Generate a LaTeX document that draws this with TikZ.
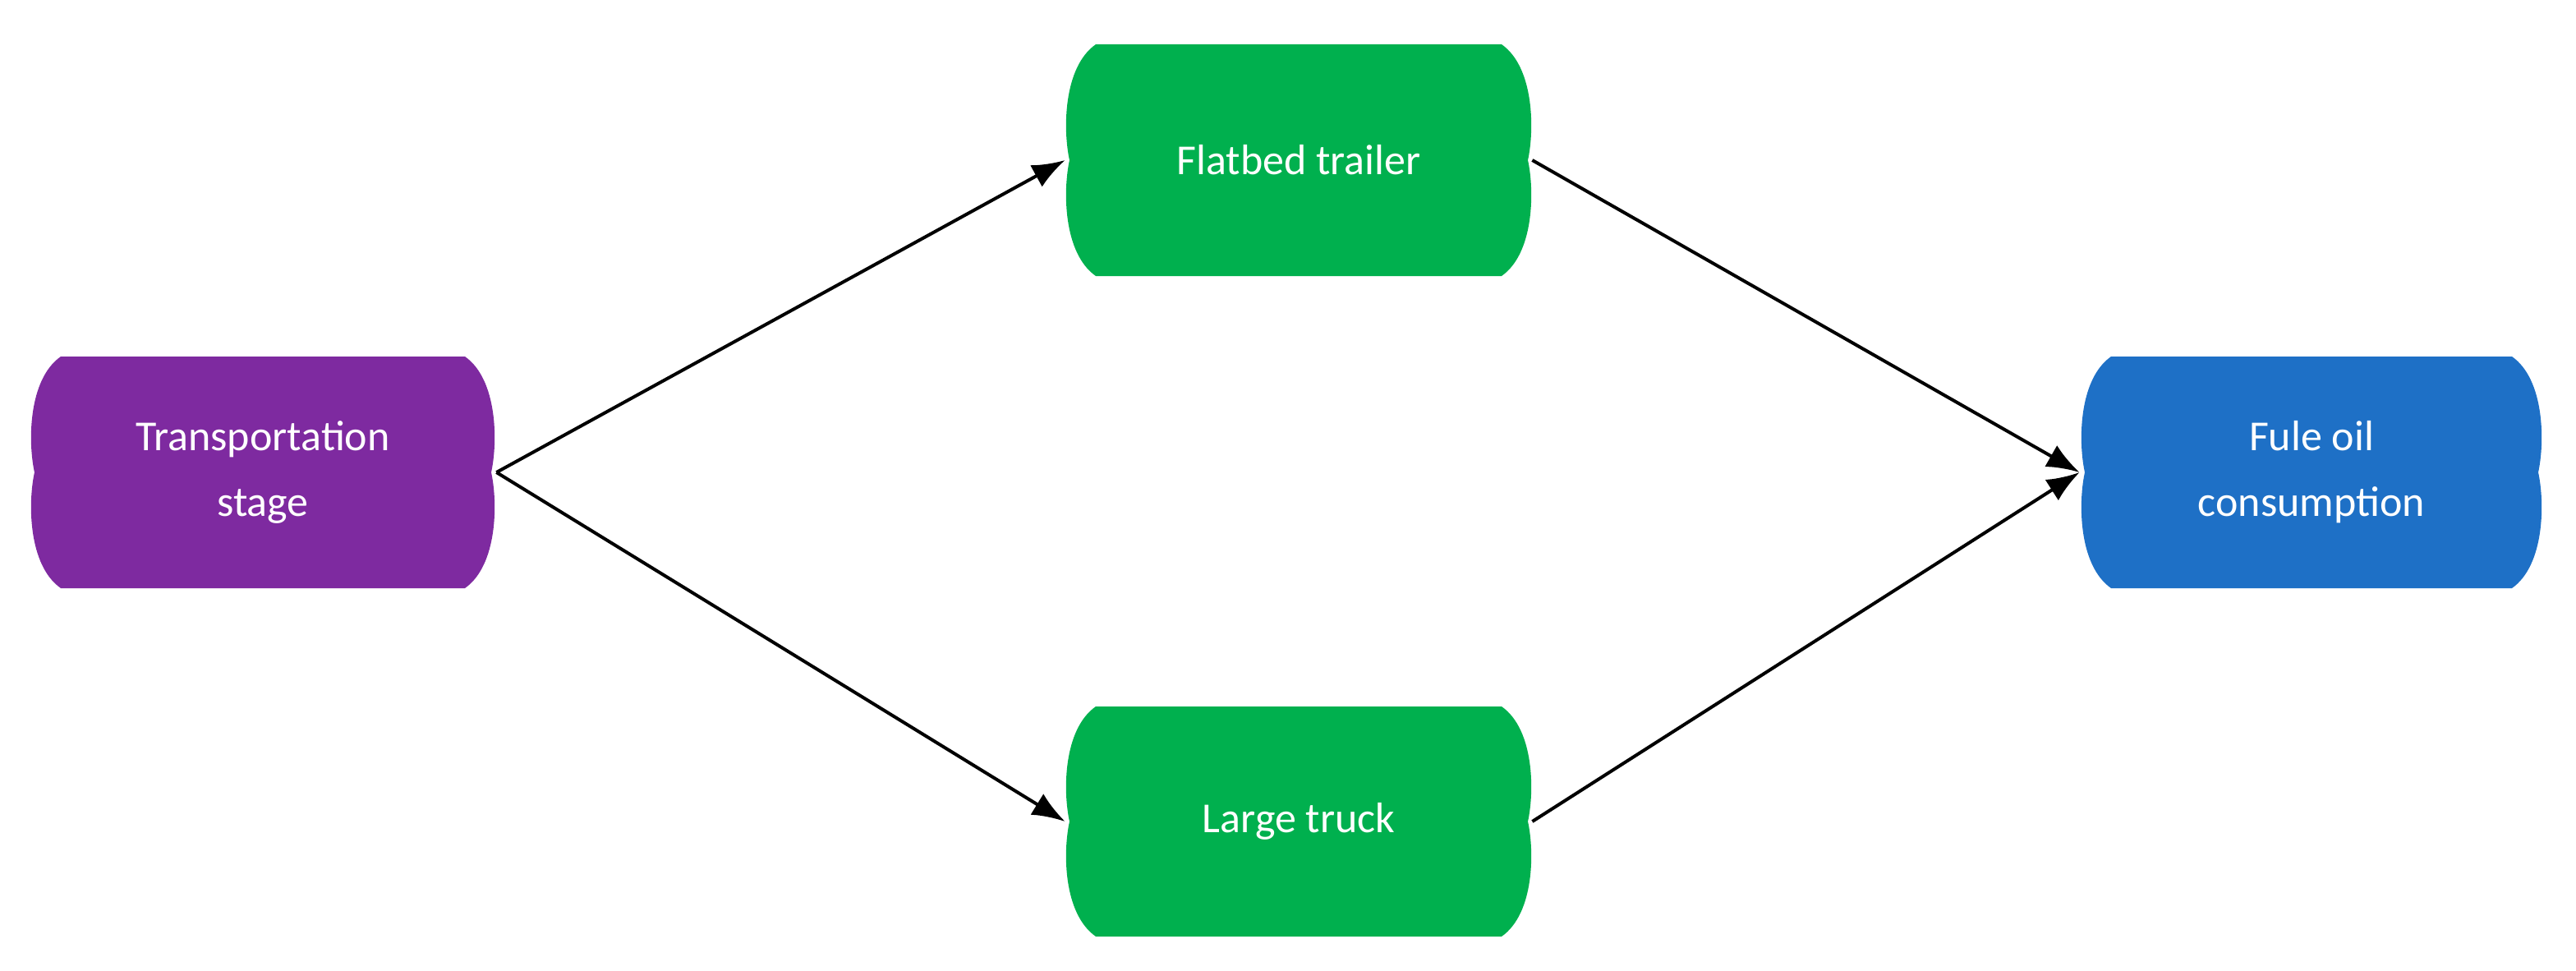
\documentclass[tikz,border=0pt]{standalone}
\usepackage{fontspec}
\setmainfont{Carlito}
\usetikzlibrary{arrows.meta}
\definecolor{cpur}{HTML}{7E2AA0}
\definecolor{cgrn}{HTML}{00B04E}
\definecolor{cblu}{HTML}{1E70C6}
\newcommand\myblob[5]{% L R T B color  (y downward positive given)
  \fill[#5] ({#1+19},{-#3}) -- ({#2-19},{-#3})
    .. controls ({#2+1},{-#3-14}) and ({#2+1},{-(#3+#4)/2+18}) .. ({#2-3},{-(#3+#4)/2})
    .. controls ({#2+1},{-(#3+#4)/2-18}) and ({#2+1},{-#4+14}) .. ({#2-19},{-#4})
    -- ({#1+19},{-#4})
    .. controls ({#1-1},{-#4+14}) and ({#1-1},{-(#3+#4)/2-18}) .. ({#1+3},{-(#3+#4)/2})
    .. controls ({#1-1},{-(#3+#4)/2+18}) and ({#1-1},{-#3-14}) .. ({#1+19},{-#3});}
\begin{document}
\begin{tikzpicture}[x=1pt,y=1pt,
  lbl/.style={text=white,font=\fontsize{26}{40}\selectfont,align=center,inner sep=0pt,minimum width=284pt,minimum height=141pt},
  arr/.style={line width=2pt,-{Latex[length=20pt,width=15pt]}}]
\useasboundingbox (0,0) rectangle (1568,-591);
\myblob{18}{302}{217}{358}{cpur}
\myblob{648}{933}{27}{168}{cgrn}
\myblob{648}{933}{430}{570}{cgrn}
\myblob{1266}{1548}{217}{358}{cblu}
\node[lbl] (ts) at (160,-287.5) {Transportation\\stage};
\node[lbl] (fb) at (790.5,-97.5) {Flatbed trailer};
\node[lbl] (lt) at (790.5,-500) {Large truck};
\node[lbl,minimum width=282pt] (fo) at (1407,-287.5) {Fule oil\\consumption};
\draw[arr] (ts.east) -- (fb.west);
\draw[arr] (ts.east) -- (lt.west);
\draw[arr] (fb.east) -- (fo.west);
\draw[arr] (lt.east) -- (fo.west);
\end{tikzpicture}
\end{document}
